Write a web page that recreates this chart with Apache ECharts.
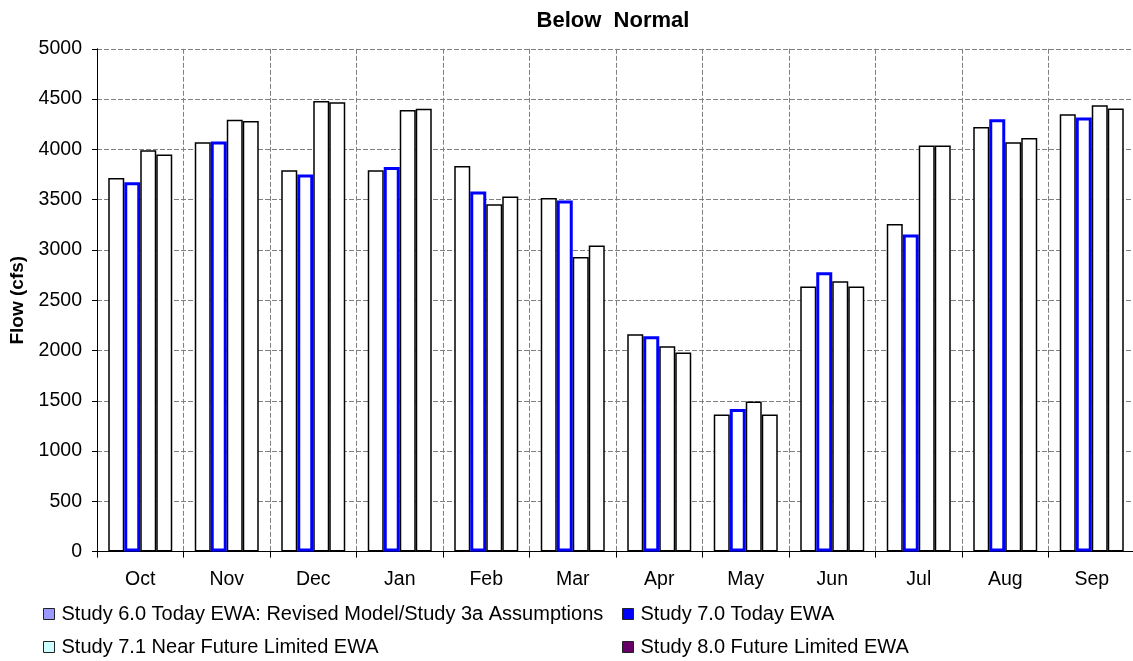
<!DOCTYPE html>
<html>
<head>
<meta charset="utf-8">
<script src="https://cdn.jsdelivr.net/npm/echarts@6/dist/echarts.min.js"></script>
<style>
html,body{margin:0;padding:0;background:#fff;}
#chart{width:1133px;height:661px;}
</style>
</head>
<body>
<div id="chart"></div>
<script>
const months = ['Oct','Nov','Dec','Jan','Feb','Mar','Apr','May','Jun','Jul','Aug','Sep'];
const study60 = [3716, 4071, 3792, 3792, 3835, 3517, 2162, 1364, 2637, 3258, 4223, 4349];
const study70 = [3673, 4078, 3750, 3825, 3580, 3491, 2142, 1417, 2778, 3153, 4299, 4316];
const study71 = [3991, 4294, 4481, 4392, 3454, 2930, 2043, 1493, 2689, 4038, 4071, 4438];
const study80 = [3948, 4282, 4468, 4405, 3531, 3044, 1980, 1364, 2637, 4038, 4113, 4406];
const yTicks = [0, 500, 1000, 1500, 2000, 2500, 3000, 3500, 4000, 4500, 5000];

const names = [
  'Study 6.0 Today EWA: Revised Model/Study 3a Assumptions',
  'Study 7.0 Today EWA',
  'Study 7.1 Near Future Limited EWA',
  'Study 8.0 Future Limited EWA'
];
const legendColors = ['#9999ff', '#0000ff', '#ccffff', '#660066'];

const chart = echarts.init(document.getElementById('chart'), null, {renderer: 'canvas'});
const font = 'Liberation Sans, Arial, sans-serif';

function barSeries(i, data) {
  const blue = i === 1;
  return {
    name: names[i],
    type: 'bar',
    data: data,
    barWidth: 16,
    barGap: '0%',
    itemStyle: {
      color: '#ffffff',
      borderColor: blue ? '#0000ff' : '#000000',
      borderWidth: blue ? 3 : 1.5
    },
    emphasis: {disabled: true}
  };
}

function legendAt(i, left, top) {
  return {
    orient: 'horizontal',
    left: left,
    top: top,
    itemWidth: 11,
    itemHeight: 11,
    icon: 'rect',
    selectedMode: false,
    padding: 0,
    textStyle: {fontFamily: font, fontSize: 20, color: '#000', padding: [0, 0, 0, 2]},
    data: [{
      name: names[i],
      itemStyle: {color: legendColors[i], borderColor: '#222', borderWidth: 1}
    }]
  };
}

chart.setOption({
  animation: false,
  backgroundColor: '#ffffff',
  title: {
    text: 'Below  Normal',
    left: 608,
    textAlign: 'center',
    top: 5,
    textStyle: {fontFamily: font, fontSize: 22, fontWeight: 'bold', color: '#000'}
  },
  legend: [
    legendAt(0, 43, 604),
    legendAt(1, 622, 604),
    legendAt(2, 43, 637),
    legendAt(3, 622, 637)
  ],
  grid: {left: 97, top: 48.8, width: 1038, height: 502.8, containLabel: false, outerBoundsMode: 'none'},
  xAxis: {
    type: 'category',
    data: months,
    boundaryGap: true,
    axisLine: {show: true, lineStyle: {color: '#000', width: 1}},
    axisTick: {show: true, length: 6, lineStyle: {color: '#000'}},
    axisLabel: {fontFamily: font, fontSize: 19.5, color: '#000', margin: 18},
    splitLine: {show: true, lineStyle: {color: '#808080', type: [5, 2], width: 1}}
  },
  yAxis: {
    type: 'value',
    min: yTicks[0],
    max: yTicks[yTicks.length - 1],
    interval: yTicks[1] - yTicks[0],
    name: 'Flow (cfs)',
    nameLocation: 'middle',
    nameGap: 69,
    nameTextStyle: {fontFamily: font, fontSize: 19, fontWeight: 'bold', color: '#000'},
    axisLine: {show: true, lineStyle: {color: '#000', width: 1}},
    axisTick: {show: true, length: 5, lineStyle: {color: '#000'}},
    axisLabel: {fontFamily: font, fontSize: 19.5, color: '#000', margin: 15, formatter: v => String(v)},
    splitLine: {show: true, lineStyle: {color: '#808080', type: [5, 2], width: 1}}
  },
  series: [
    barSeries(0, study60),
    barSeries(1, study70),
    barSeries(2, study71),
    barSeries(3, study80)
  ]
});
</script>
</body>
</html>
